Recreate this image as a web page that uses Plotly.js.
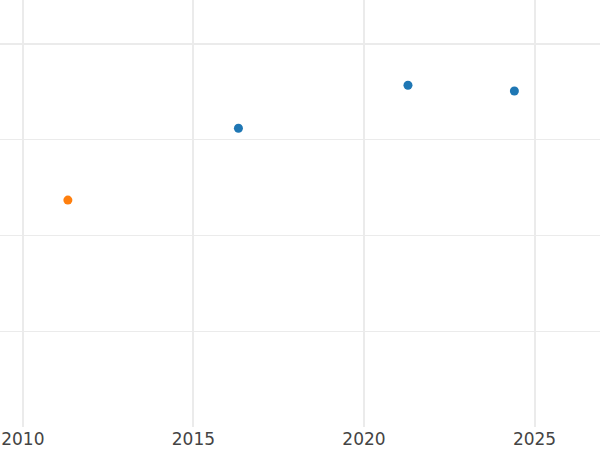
<!DOCTYPE html>
<html><head><meta charset="utf-8">
<script src="https://cdn.plot.ly/plotly-3.0.1.min.js"></script>
<style>html,body{margin:0;padding:0;background:#fff}#chart{width:600px;height:450px}</style>
</head><body><div id="chart"></div>
<script>
const orangeX = [2011.32];
const orangeY = [-1.63];
const blueX = [2016.32, 2021.29, 2024.41];
const blueY = [-0.88, -0.43, -0.49];
const xTicks = [2010, 2015, 2020, 2025];

const traces = [
  {x: blueX, y: blueY, mode: 'markers', type: 'scatter', marker: {color: '#1f77b4', size: 9}, showlegend: false},
  {x: orangeX, y: orangeY, mode: 'markers', type: 'scatter', marker: {color: '#ff7f0e', size: 9}, showlegend: false}
];
const layout = {
  width: 600, height: 450,
  margin: {l: 0, r: 0, t: 0, b: 23},
  paper_bgcolor: '#fff', plot_bgcolor: '#fff',
  font: {family: 'DejaVu Sans', size: 17, color: '#444'},
  xaxis: {range: [2009.33, 2026.92], tickvals: xTicks, ticktext: xTicks.map(String),
          showgrid: true, gridcolor: '#ebebeb', gridwidth: 2, zeroline: false, showline: false, ticks: '', automargin: false},
  yaxis: {range: [-4.0, 0.46], dtick: 1, showticklabels: false, showgrid: true, gridcolor: '#ebebeb', gridwidth: 1,
          zeroline: true, zerolinecolor: '#ebebeb', zerolinewidth: 2, showline: false, ticks: '', automargin: false}
};
Plotly.newPlot('chart', traces, layout, {displayModeBar: false, staticPlot: true});
</script></body></html>
